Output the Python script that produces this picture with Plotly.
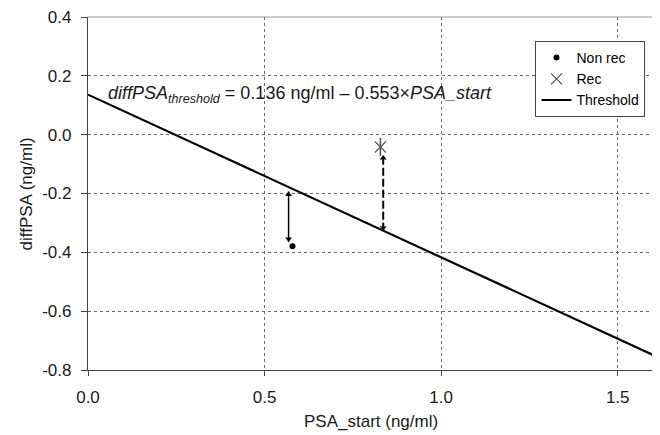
import numpy as np
import plotly.graph_objects as go

# Data
nonrec_x = [0.579]
nonrec_y = [-0.379]
rec_x = [0.828]
rec_y = [-0.042]
thr_intercept = 0.136
thr_slope = -0.553
x_range = [0.0, 1.6]
y_range = [-0.8, 0.4]
x_ticks = [0.0, 0.5, 1.0, 1.5]
x_ticklabels = ["0.0", "0.5", "1.0", "1.5"]
y_ticks = [0.4, 0.2, 0.0, -0.2, -0.4, -0.6, -0.8]
y_ticklabels = ["0.4", "0.2", "0.0", "-0.2", "-0.4", "-0.6", "-0.8"]

def thr(x):
    return thr_intercept + thr_slope * np.asarray(x)

FONT = "Liberation Sans, Arial, sans-serif"
TXT = "#1a1a1a"
fig = go.Figure()

# Threshold line
tx = np.array(x_range)
fig.add_trace(go.Scatter(x=tx, y=thr(tx), mode="lines", name="Threshold",
                         line=dict(color="black", width=2.2), legendrank=3))

# Arrow for Non rec (solid, double-headed)
ax1 = nonrec_x[0] - 0.011
y_top1 = float(thr(ax1)) - 0.015
y_bot1 = nonrec_y[0] + 0.014
fig.add_trace(go.Scatter(x=[ax1, ax1], y=[y_top1, y_bot1], mode="lines",
                         line=dict(color="black", width=1.5), showlegend=False, hoverinfo="skip"))
fig.add_trace(go.Scatter(x=[ax1, ax1], y=[y_top1 - 0.01, y_bot1 + 0.01], mode="markers",
                         marker=dict(symbol=["triangle-up", "triangle-down"], size=6, color="black"),
                         showlegend=False, hoverinfo="skip"))

# Arrow for Rec (dashed, double-headed)
ax2 = rec_x[0] + 0.008
y_bot2 = float(thr(ax2))
y_top2 = rec_y[0] - 0.027
fig.add_trace(go.Scatter(x=[ax2, ax2], y=[y_bot2, y_top2], mode="lines",
                         line=dict(color="black", width=2, dash="8px,3px"), showlegend=False, hoverinfo="skip"))
fig.add_trace(go.Scatter(x=[ax2, ax2], y=[y_bot2 + 0.01, y_top2 - 0.01], mode="markers",
                         marker=dict(symbol=["triangle-down", "triangle-up"], size=6, color="black"),
                         showlegend=False, hoverinfo="skip"))

# Points
fig.add_trace(go.Scatter(x=nonrec_x, y=nonrec_y, mode="markers", name="Non rec",
                         marker=dict(symbol="circle", size=6, color="black"), legendrank=1))
fig.add_trace(go.Scatter(x=rec_x, y=rec_y, mode="markers", name="Rec",
                         marker=dict(symbol="x-thin-open", size=11, color="#555",
                                     line=dict(color="#555", width=1.2)), legendrank=2))
fig.add_trace(go.Scatter(x=rec_x, y=rec_y, mode="markers", showlegend=False, hoverinfo="skip",
                         marker=dict(symbol="line-ns-open", size=13, color="#555",
                                     line=dict(color="#555", width=1.5))))

# Equation text
fig.add_annotation(x=0.052, y=0.137, xref="x", yref="y", xanchor="left", yanchor="middle",
                   text="<i>diffPSA</i><sub><i>threshold</i></sub> = 0.136 ng/ml \u2013 0.553\u00d7<i>PSA_start</i>",
                   showarrow=False, font=dict(family=FONT, size=18, color=TXT))

# Axis titles
fig.add_annotation(x=0.5, y=-0.147, xref="paper", yref="paper", xanchor="center", yanchor="middle",
                   text="PSA_start (ng/ml)", showarrow=False, font=dict(family=FONT, size=17, color=TXT))
fig.add_annotation(x=-0.108, y=0.5, xref="paper", yref="paper", xanchor="center", yanchor="middle",
                   text="diffPSA (ng/ml)", textangle=-90, showarrow=False,
                   font=dict(family=FONT, size=17, color=TXT))

# Plot border (top/right lighter gray)
fig.add_shape(type="line", xref="paper", yref="paper", x0=0, x1=1, y0=1, y1=1,
              line=dict(color="#999", width=1.2), layer="above")
fig.add_shape(type="line", xref="paper", yref="paper", x0=1, x1=1, y0=0, y1=1,
              line=dict(color="#999", width=1.2), layer="above")

# The page body has an 8px default margin, so the figure is sized to fit the window.
fig.update_layout(
    width=652, height=427,
    margin=dict(l=80, r=7, t=9, b=65, autoexpand=False),
    paper_bgcolor="white", plot_bgcolor="white",
    font=dict(family=FONT, size=17, color=TXT),
    legend=dict(x=0.792, y=0.932, xanchor="left", yanchor="top",
                bordercolor="#444", borderwidth=1, bgcolor="white",
                font=dict(family=FONT, size=14, color="black"),
                traceorder="normal", itemwidth=30),
    showlegend=True,
)

fig.update_xaxes(range=x_range, tickvals=x_ticks, ticktext=x_ticklabels,
                 showline=True, linecolor="#444", linewidth=1.2,
                 ticks="outside", ticklen=5, tickcolor="#444", ticklabelstandoff=6,
                 ticklabeloverflow="allow",
                 showgrid=True, gridcolor="#666", griddash="dot", gridwidth=1,
                 zeroline=False, automargin=False,
                 tickfont=dict(size=17, color=TXT))
fig.update_yaxes(range=y_range, tickvals=y_ticks, ticktext=y_ticklabels,
                 showline=True, linecolor="#444", linewidth=1.2,
                 ticks="outside", ticklen=6, tickcolor="#444", ticklabelstandoff=6,
                 ticklabeloverflow="allow",
                 showgrid=True, gridcolor="#666", griddash="dot", gridwidth=1,
                 zeroline=False, automargin=False,
                 tickfont=dict(size=17, color=TXT))

fig.write_html("out.html")
